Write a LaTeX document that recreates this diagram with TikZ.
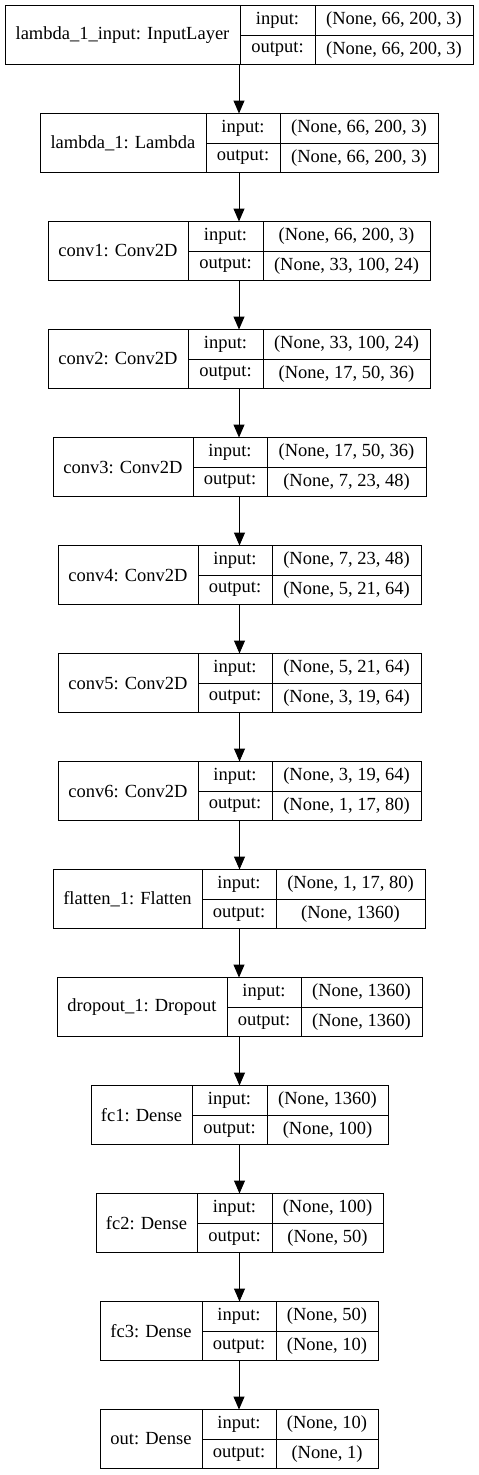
\documentclass[tikz,border=0pt]{standalone}
\usepackage{fontspec}
\setmainfont{Liberation Serif}
\usepackage{tikz}
\usetikzlibrary{arrows.meta,positioning,fit}

\begin{document}
\begin{tikzpicture}[x=1pt, y=1pt, font=\fontsize{18.5pt}{21pt}\selectfont,
    >={Triangle[length=13pt,width=11pt]},
    cell/.style={draw, rectangle, line width=1pt, inner sep=0pt, outer sep=0pt, minimum height=29.5pt},
    namecell/.style={cell, minimum height=59pt}]
    \useasboundingbox (0,0) rectangle (479,-1475);

    % one record per layer: name | input/output | shapes
    \foreach \id/\x/\wa/\wb/\wc/\name/\inshape/\outshape [count=\i from 0] in {
        input/5/235/75/158/{lambda\_1\_input: InputLayer}/{(None, 66, 200, 3)}/{(None, 66, 200, 3)},
        lambda/40/166/74/158/{lambda\_1: Lambda}/{(None, 66, 200, 3)}/{(None, 66, 200, 3)},
        conv1/48/140/75/167/{conv1: Conv2D}/{(None, 66, 200, 3)}/{(None, 33, 100, 24)},
        conv2/48/140/75/167/{conv2: Conv2D}/{(None, 33, 100, 24)}/{(None, 17, 50, 36)},
        conv3/53/140/74/159/{conv3: Conv2D}/{(None, 17, 50, 36)}/{(None, 7, 23, 48)},
        conv4/58/140/74/149/{conv4: Conv2D}/{(None, 7, 23, 48)}/{(None, 5, 21, 64)},
        conv5/58/140/74/149/{conv5: Conv2D}/{(None, 5, 21, 64)}/{(None, 3, 19, 64)},
        conv6/58/140/74/149/{conv6: Conv2D}/{(None, 3, 19, 64)}/{(None, 1, 17, 80)},
        flatten/53/149/74/149/{flatten\_1: Flatten}/{(None, 1, 17, 80)}/{(None, 1360)},
        dropout/57/170/74/121/{dropout\_1: Dropout}/{(None, 1360)}/{(None, 1360)},
        fc1/91/101/75/121/{fc1: Dense}/{(None, 1360)}/{(None, 100)},
        fc2/96/101/75/111/{fc2: Dense}/{(None, 100)}/{(None, 50)},
        fc3/100/102/74/102/{fc3: Dense}/{(None, 50)}/{(None, 10)},
        out/100/102/74/102/{out: Dense}/{(None, 10)}/{(None, 1)}}{
        \pgfmathsetmacro\ytop{-5.5-108*\i}
        \node (\id-name) [namecell, minimum width=\wa pt, anchor=north west] at (\x,\ytop) {\name};
        \node (\id-ik) [cell, minimum width=\wb pt, anchor=north west] at (\id-name.north east) {input:};
        \node (\id-ok) [cell, minimum width=\wb pt, anchor=north west] at (\id-ik.south west) {output:};
        \node (\id-iv) [cell, minimum width=\wc pt, anchor=north west] at (\id-ik.north east) {\inshape};
        \node (\id-ov) [cell, minimum width=\wc pt, anchor=north west] at (\id-iv.south west) {\outshape};
        \node (\id) [fit=(\id-name)(\id-ov), inner sep=0pt, outer sep=0pt] {};
    }

    \foreach \a/\b in {input/lambda, lambda/conv1, conv1/conv2, conv2/conv3, conv3/conv4,
        conv4/conv5, conv5/conv6, conv6/flatten, flatten/dropout, dropout/fc1,
        fc1/fc2, fc2/fc3, fc3/out}
        \draw[->, line width=1pt] (\a.south) -- (\a.south |- \b.north);
\end{tikzpicture}
\end{document}
